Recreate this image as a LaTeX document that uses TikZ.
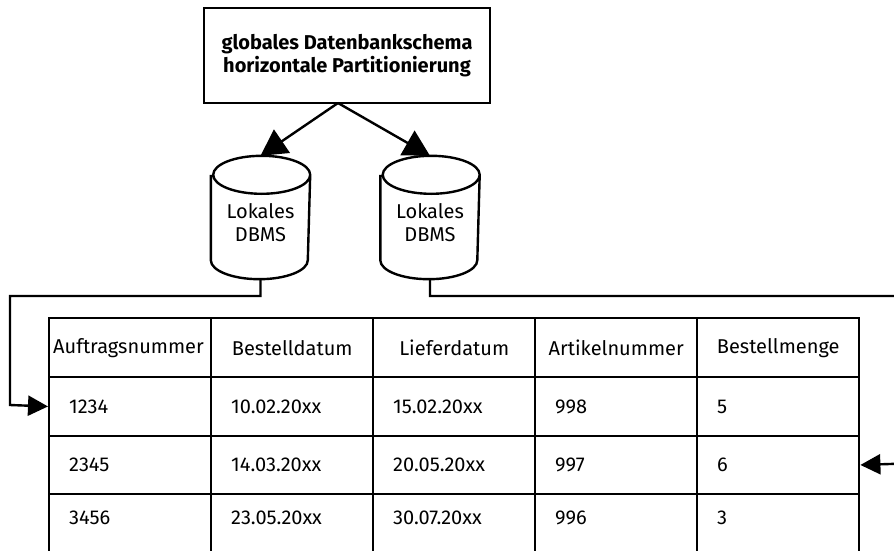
\documentclass[tikz,border=0pt]{standalone}
\usepackage{fontspec}
\setmainfont{Fira Sans}
\usetikzlibrary{arrows.meta}
\begin{document}
\begin{tikzpicture}[x=1pt,y=1pt,
  line width=2.4pt,
  every node/.style={font=\fontsize{20}{24}\selectfont},
  bigarrow/.style={-{Triangle[length=26pt,width=28pt]}},
  smallarrow/.style={-{Triangle[length=20pt,width=20pt]}},
  titlebox/.style={draw,minimum width=286pt,minimum height=95pt,align=center,font=\fontsize{20}{22.5}\selectfont\bfseries},
  dbtext/.style={minimum width=97pt,minimum height=121pt,inner sep=0pt,align=center,font=\fontsize{20}{23}\selectfont},
  headcell/.style={draw,minimum width=162pt,minimum height=59pt,inner sep=0pt,anchor=north west},
  datacell/.style={draw,text width=122pt,inner xsep=20pt,inner ysep=0pt,minimum height=58.5pt,align=left,anchor=north west},
]
\useasboundingbox (0,0) rectangle (894,-551);
\clip (0,0) rectangle (894,-551);

\node[titlebox] (top) at (347,-55.5) {globales Datenbankschema\\horizontale Partitionierung};
\coordinate (apex) at (338,-103);

\newcommand{\cylout}[1]{%
  \draw ([yshift=-19pt]#1.north west) -- ([yshift=19pt]#1.south west)
    arc[start angle=180,end angle=360,x radius=48.5pt,y radius=19pt]
    -- ([yshift=-19pt]#1.north east)
    arc[start angle=0,end angle=180,x radius=48.5pt,y radius=19pt]
    arc[start angle=180,end angle=360,x radius=48.5pt,y radius=19pt];}

\node[dbtext] (db1) at (260.5,-217.5) {\raisebox{0pt}{}\\[3pt]Lokales\\DBMS};
\node[dbtext] (db2) at (430,-217.5) {\raisebox{0pt}{}\\[3pt]Lokales\\DBMS};
\cylout{db1}
\cylout{db2}

\draw[bigarrow] (apex) -- (db1.north);
\draw[bigarrow] (apex) -- (db2.north);

% table header
\node[headcell,text width=154pt,inner xsep=4pt,align=left] (h1) at (48,-317) {Auftragsnummer};
\node[headcell] (h2) at (210,-317) {Bestelldatum};
\node[headcell] (h3) at (372,-317) {Lieferdatum};
\node[headcell] (h4) at (534,-317) {Artikelnummer};
\node[headcell] (h5) at (696,-317) {Bestellmenge};

% rows
\node[datacell] (r1c1) at (48,-376) {1234};
\node[datacell] (r1c2) at (210,-376) {10.02.20xx};
\node[datacell] (r1c3) at (372,-376) {15.02.20xx};
\node[datacell] (r1c4) at (534,-376) {998};
\node[datacell] (r1c5) at (696,-376) {5};
\node[datacell] (r2c1) at (48,-434.5) {2345};
\node[datacell] (r2c2) at (210,-434.5) {14.03.20xx};
\node[datacell] (r2c3) at (372,-434.5) {20.05.20xx};
\node[datacell] (r2c4) at (534,-434.5) {997};
\node[datacell] (r2c5) at (696,-434.5) {6};
\node[datacell,minimum height=70pt,text depth=22pt] (r3c1) at (48,-493) {3456};
\node[datacell,minimum height=70pt,text depth=22pt] (r3c2) at (210,-493) {23.05.20xx};
\node[datacell,minimum height=70pt,text depth=22pt] (r3c3) at (372,-493) {30.07.20xx};
\node[datacell,minimum height=70pt,text depth=22pt] (r3c4) at (534,-493) {996};
\node[datacell,minimum height=70pt,text depth=22pt] (r3c5) at (696,-493) {3};

% connectors
\coordinate (L1) at (10,-296);
\coordinate (L2) at (10,-405);
\coordinate (R1) at (905,-296);
\coordinate (R2) at (905,-463.5);
\draw[smallarrow] (db1.south) |- (L1) -- (L2) -- (r1c1.west);
\draw[smallarrow] (db2.south) |- (R1) -- (R2) -- (r2c5.east);
\end{tikzpicture}
\end{document}
